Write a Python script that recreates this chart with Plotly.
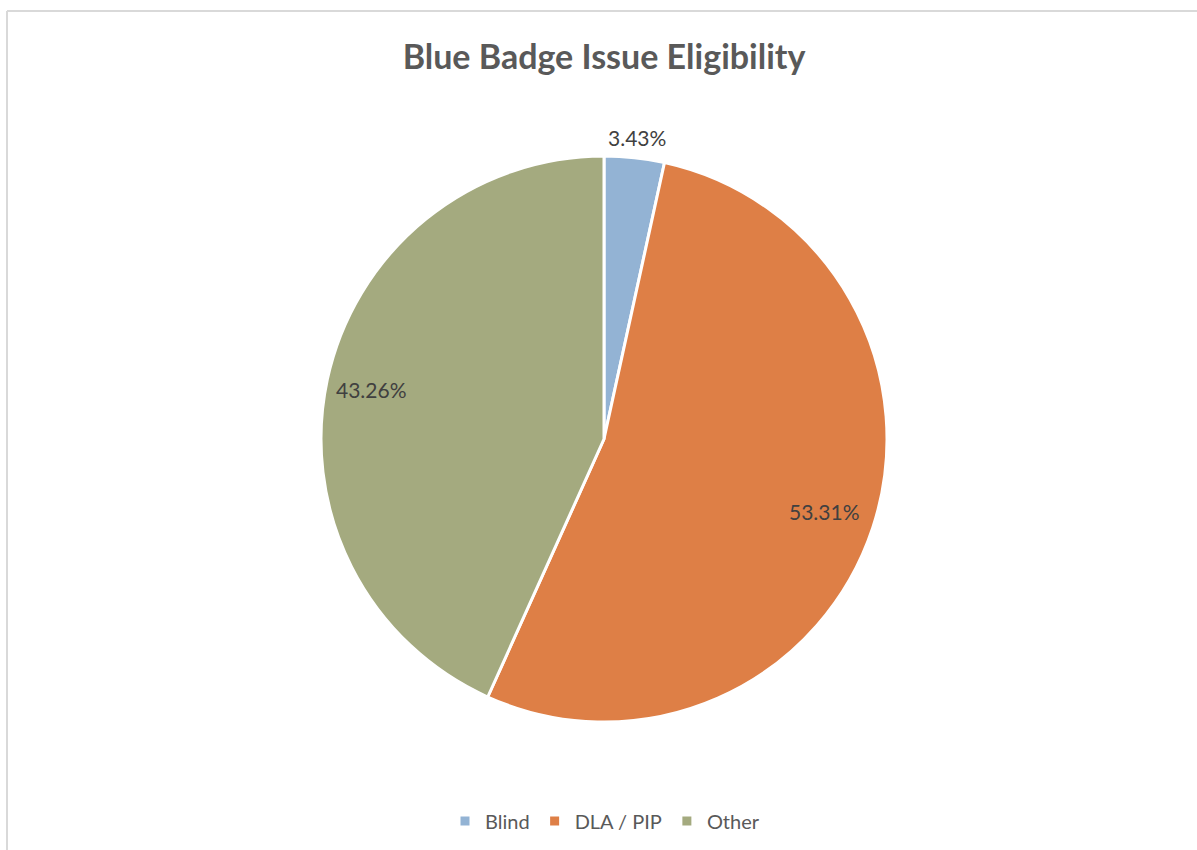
import math
import plotly.graph_objects as go

categories = ["Blind", "DLA / PIP", "Other"]
values = [3.43, 53.31, 43.26]
colors = ["#93B3D4", "#DE7F46", "#A4AA7F"]
label_radius = [1.07, 0.82, 0.84]  # label distance from centre, as fraction of radius

W, H = 1197, 850
CX, CY, R = 604, 439, 283  # pie centre / radius in pixels

fig = go.Figure(go.Pie(
    labels=categories,
    values=values,
    sort=False,
    direction="clockwise",
    rotation=0,
    marker=dict(colors=colors, line=dict(color="white", width=3)),
    textinfo="none",
    domain=dict(x=[(CX - R) / W, (CX + R) / W], y=[(H - CY - R) / H, (H - CY + R) / H]),
    hoverinfo="label+percent",
))

total = sum(values)
annotations = []
cum = 0.0
for v, f in zip(values, label_radius):
    mid = (cum + v / 2) / total * 2 * math.pi
    cum += v
    px = CX + R * f * math.sin(mid)
    py = CY - R * f * math.cos(mid)
    annotations.append(dict(
        x=px / W, y=1 - py / H, xref="paper", yref="paper",
        text=f"{v:.2f}%", showarrow=False, xanchor="center", yanchor="middle",
        font=dict(family="Lato, Open Sans, sans-serif", size=21, color="#404040"),
    ))

fig.update_layout(
    width=W, height=H,
    margin=dict(l=0, r=0, t=0, b=0),
    paper_bgcolor="white",
    title=dict(text="<b>Blue Badge Issue Eligibility</b>", x=604 / W, xanchor="center",
               y=1 - 57 / H, yanchor="middle",
               font=dict(family="Lato, Open Sans, sans-serif", size=34, color="#595959")),
    legend=dict(orientation="h", x=605 / W, xanchor="center", y=1 - 821 / H, yanchor="middle",
                font=dict(family="Lato, Open Sans, sans-serif", size=20, color="#595959"),
                itemwidth=30, traceorder="normal"),
    annotations=annotations,
    shapes=[
        dict(type="line", xref="paper", yref="paper", x0=7 / W, x1=1.01, y0=1 - 11 / H, y1=1 - 11 / H,
             line=dict(color="#D9D9D9", width=2)),
        dict(type="line", xref="paper", yref="paper", x0=7 / W, x1=7 / W, y0=1 - 11 / H, y1=-0.01,
             line=dict(color="#D9D9D9", width=2)),
    ],
)

fig.write_html("out.html")
